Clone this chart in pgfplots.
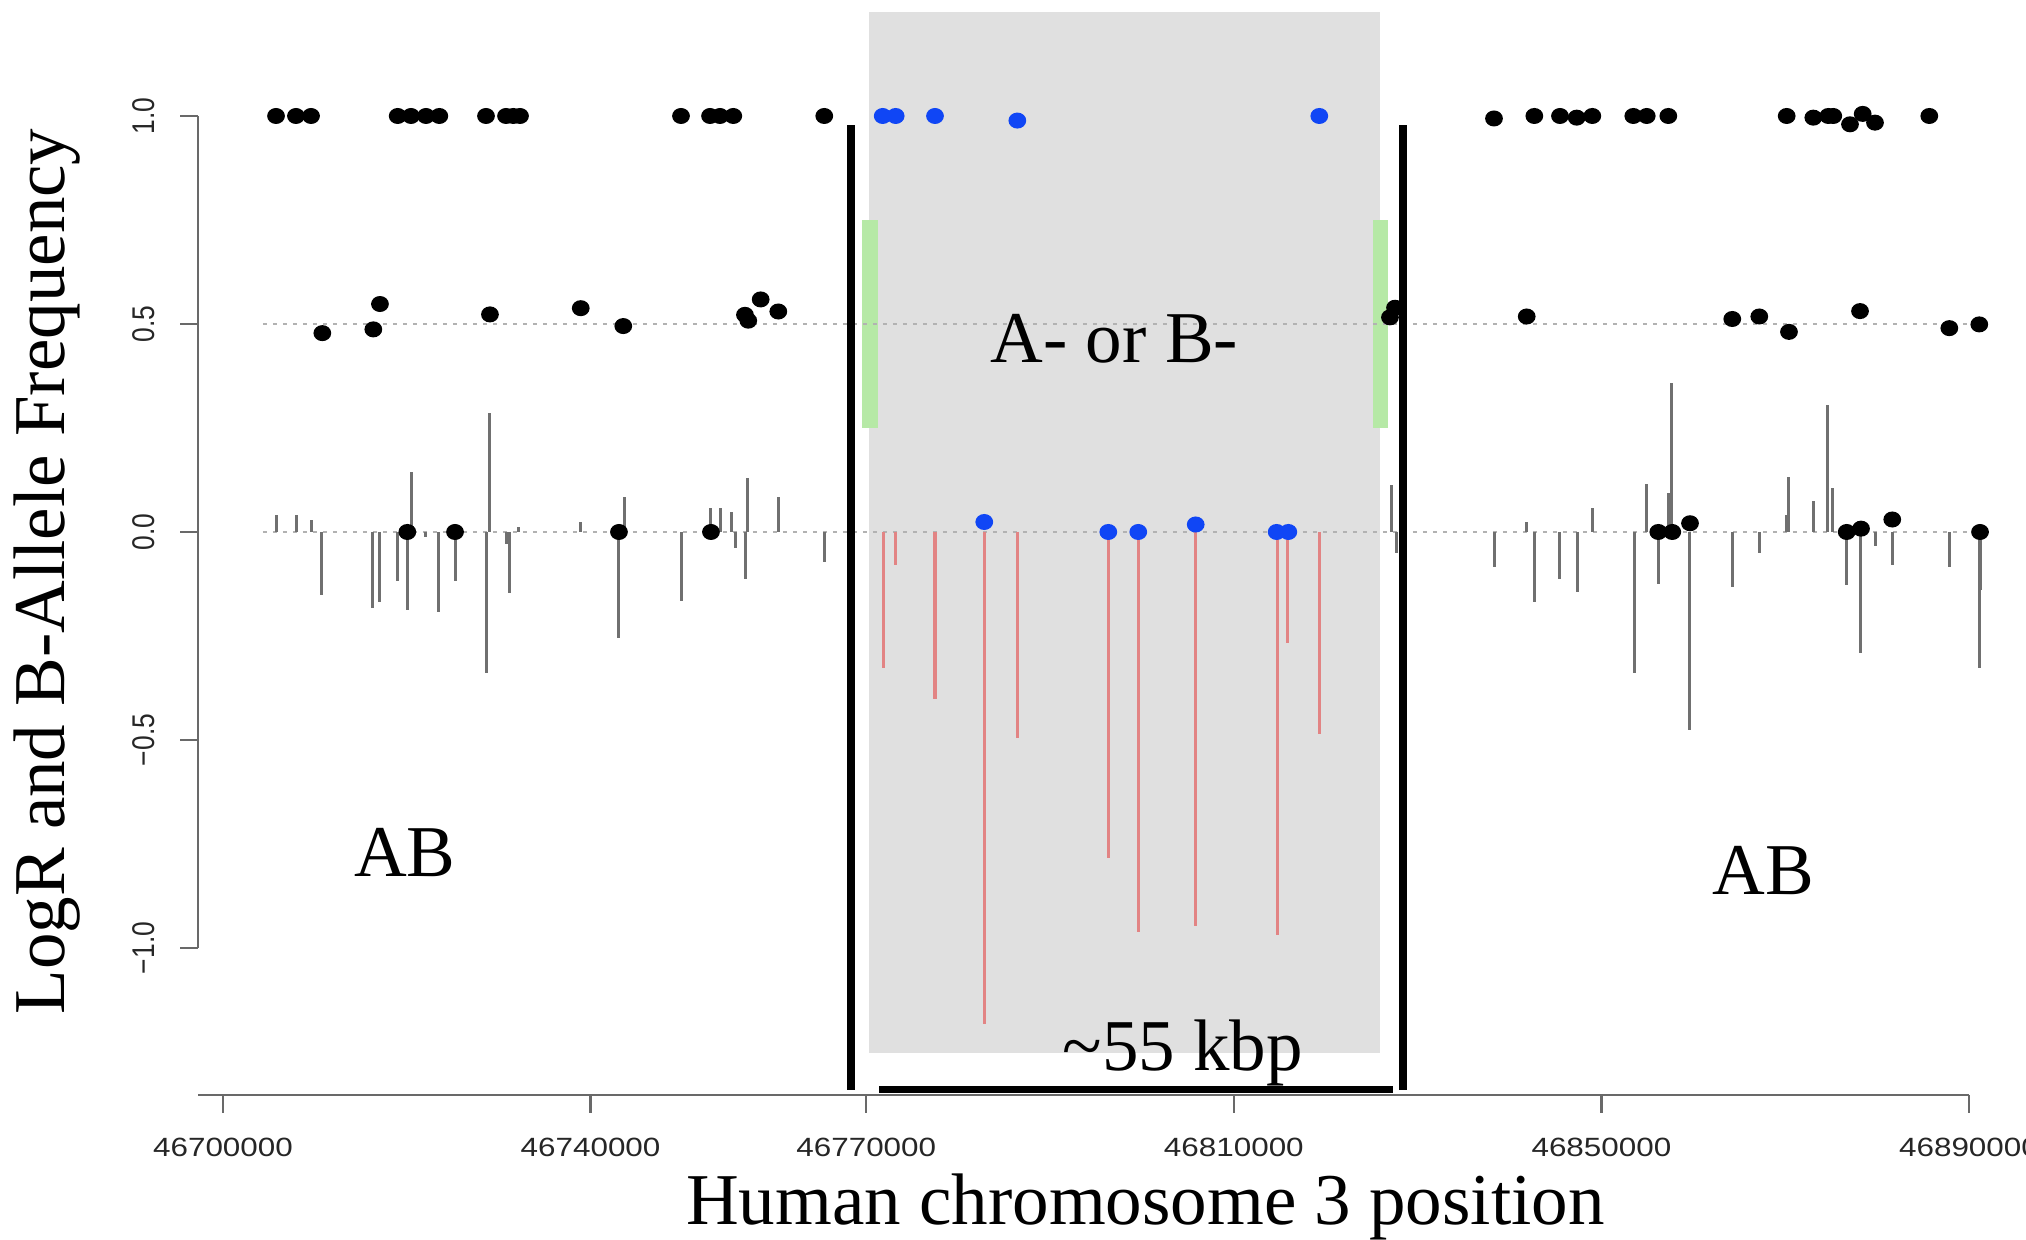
\documentclass[border=0pt]{standalone}
\usepackage{fontspec}
\setmainfont{Liberation Serif}
\setsansfont{Liberation Sans}
\usepackage{pgfplots}
\pgfplotsset{compat=1.18}

\definecolor{boxgray}{RGB}{224,224,224}
\definecolor{delgreen}{RGB}{182,233,166}
\definecolor{seggray}{RGB}{112,112,112}
\definecolor{segred}{RGB}{226,132,132}
\definecolor{dotblue}{RGB}{16,70,245}
\definecolor{refgray}{RGB}{178,178,178}
\definecolor{axgray}{RGB}{105,105,105}

% x is kb from 46700000 (1 px in the reference = 0.25pt here)
\begin{document}
\begin{tikzpicture}
\useasboundingbox (0pt,0pt) rectangle (506.5pt,310pt);
\begin{axis}[
  at={(49.5pt,36.25pt)}, anchor=south west,
  scale only axis, width=450.5pt, height=271.25pt,
  xmin=-2.7205, xmax=193.373, ymin=-1.35337, ymax=1.25481,
  clip=false,
  axis x line*=bottom, axis y line*=left,
  axis line style={draw=none},
  tick align=outside,
  major tick length=4.5pt,
  tick style={draw=axgray, line width=0.55pt},
  xtick={0,40,70,110,150,190},
  xticklabels={46700000,46740000,46770000,46810000,46850000,46890000},
  ytick={-1,-0.5,0,0.5,1},
  yticklabels={−1.0,−0.5,0.0,0.5,1.0},
  ticklabel style={font=\sffamily\fontsize{6.6}{7}\selectfont, text=black!85, inner sep=0pt},
  xticklabel style={anchor=north, xscale=1.19},
  yticklabel style={rotate=90, anchor=south, yscale=1.19},
  xticklabel shift=6.1pt, yticklabel shift=6pt,
  xlabel={Human chromosome 3 position},
  ylabel={LogR and B-Allele Frequency},
  label style={font=\fontsize{18.25}{20}\selectfont, inner sep=0pt},
  xlabel style={at={(axis description cs:0.5258,-0.1198)}, anchor=base},
  ylabel style={at={(axis description cs:-0.07436,0.4825)}, anchor=base},
]
% deleted region
\fill[boxgray] (axis cs:70.30,1.25) rectangle (axis cs:125.90,-1.2524);
\fill[delgreen] (axis cs:69.54,0.25) rectangle (axis cs:71.28,0.75);
\fill[delgreen] (axis cs:125.11,0.25) rectangle (axis cs:126.81,0.75);
% reference lines
\draw[refgray, line width=0.6pt, dash pattern=on 1pt off 1.5pt] (axis cs:4.35,0) -- (axis cs:192.3,0);
\draw[refgray, line width=0.6pt, dash pattern=on 1pt off 1.5pt] (axis cs:4.35,0.5) -- (axis cs:192.3,0.5);

% LogR outside
\addplot[ycomb, draw=seggray, line width=0.75pt, no markers] coordinates {
(5.84,0.040) (8.02,0.040) (9.58,0.030) (10.77,-0.152) (16.29,-0.183) (17.08,-0.168)
(18.97,-0.119) (20.06,-0.187) (20.46,0.143) (22.06,-0.012) (23.50,-0.193) (25.25,-0.119)
(28.62,-0.340) (29.05,0.285) (30.90,-0.030) (31.23,-0.147) (32.21,0.012) (38.93,0.025)
(43.09,-0.254) (43.64,0.083) (49.91,-0.166) (53.07,0.057) (54.16,0.058) (55.36,0.049)
(55.72,-0.039) (56.88,-0.113) (57.09,0.129) (60.43,0.084) (65.43,-0.071)
(127.18,0.113) (127.72,-0.051) (138.31,-0.083) (141.87,0.025) (142.70,-0.169)
(145.49,-0.113) (147.37,-0.145) (149.01,0.057) (153.58,-0.338) (154.85,0.115)
(156.19,-0.124) (157.28,0.093) (157.65,0.357) (159.56,-0.475) (164.24,-0.132)
(167.15,-0.050) (170.16,0.040) (170.33,0.131) (173.06,0.075) (174.62,0.305)
(175.12,0.105) (176.69,-0.128) (177.16,0.010) (178.14,-0.292) (179.84,-0.033)
(181.65,-0.079) (187.86,-0.083) (191.12,-0.328) (191.20,-0.140)
};
% LogR inside the deletion
\addplot[ycomb, draw=segred, line width=0.8pt, no markers] coordinates {
(71.86,-0.328) (73.20,-0.079) (77.48,-0.401) (82.84,-1.182) (86.44,-0.496)
(96.34,-0.783) (99.60,-0.962) (105.85,-0.946) (114.73,-0.969) (115.82,-0.267)
(119.30,-0.486)
};
% B-allele frequency outside
\addplot[only marks, mark=*, mark size=1.8pt, mark options={xscale=1.12, draw=black, fill=black}] coordinates {
(5.77,1.0) (7.94,1.0) (9.58,1.0) (10.81,0.478) (16.36,0.487) (17.08,0.548)
(19.01,1.0) (20.06,0.0) (20.46,1.0) (22.09,1.0) (23.54,1.0) (25.25,0.0)
(28.62,1.0) (29.05,0.523) (30.80,1.0) (31.59,1.0) (32.32,1.0) (38.93,0.538)
(43.09,0.0) (43.56,0.495) (49.84,1.0) (53.00,1.0) (53.10,0.0) (54.08,1.0)
(55.53,1.0) (56.80,0.522) (57.16,0.508) (58.51,0.559) (60.43,0.530) (65.43,1.0)
(126.99,0.516) (127.54,0.539) (138.31,0.994) (141.87,0.518) (142.70,1.0)
(145.49,1.0) (147.31,0.996) (149.01,1.0) (153.47,1.0) (154.93,1.0) (156.19,0.0)
(157.28,1.0) (157.71,0.0) (159.64,0.021) (164.24,0.512) (167.18,0.518)
(170.16,1.0) (170.41,0.481) (173.06,0.996) (174.69,1.0) (175.23,1.0) (176.69,0.0)
(177.05,0.980) (178.14,0.531) (178.25,0.008) (178.43,1.005) (179.77,0.984)
(181.65,0.030) (185.68,1.0) (187.86,0.490) (191.12,0.499) (191.20,0.0)
};
% B-allele frequency inside the deletion
\addplot[only marks, mark=*, mark size=1.8pt, mark options={xscale=1.12, draw=dotblue, fill=dotblue}] coordinates {
(71.79,1.0) (73.20,1.0) (77.48,1.0) (82.84,0.024) (86.44,0.989) (96.34,0.0)
(99.60,0.0) (105.85,0.018) (114.66,0.0) (115.93,0.0) (119.30,1.0)
};

% axes, R style
\draw[axgray, line width=0.6pt] (axis cs:-2.7205,-1) -- (axis cs:-2.7205,1);
\draw[axgray, line width=0.6pt] (axis cs:-2.7205,-1.35337) -- (axis cs:190,-1.35337);

% breakpoints and span
\draw[black, line width=1.9pt] (axis cs:68.34,0.978) -- (axis cs:68.34,-1.341);
\draw[black, line width=1.9pt] (axis cs:128.41,0.978) -- (axis cs:128.41,-1.341);
\draw[black, line width=1.75pt] (axis cs:71.39,-1.341) -- (axis cs:127.32,-1.341);

\begin{scope}[every node/.style={font=\fontsize{18.25}{20}\selectfont, inner sep=0pt, anchor=base west}]
\node at (axis cs:83.46,0.4063) {A- or B-};
\node at (axis cs:14.18,-0.8293) {AB};
\node at (axis cs:162.0,-0.8716) {AB};
\node at (axis cs:91.30,-1.2947) {\textasciitilde 55 kbp};
\end{scope}
\end{axis}
\end{tikzpicture}
\end{document}
